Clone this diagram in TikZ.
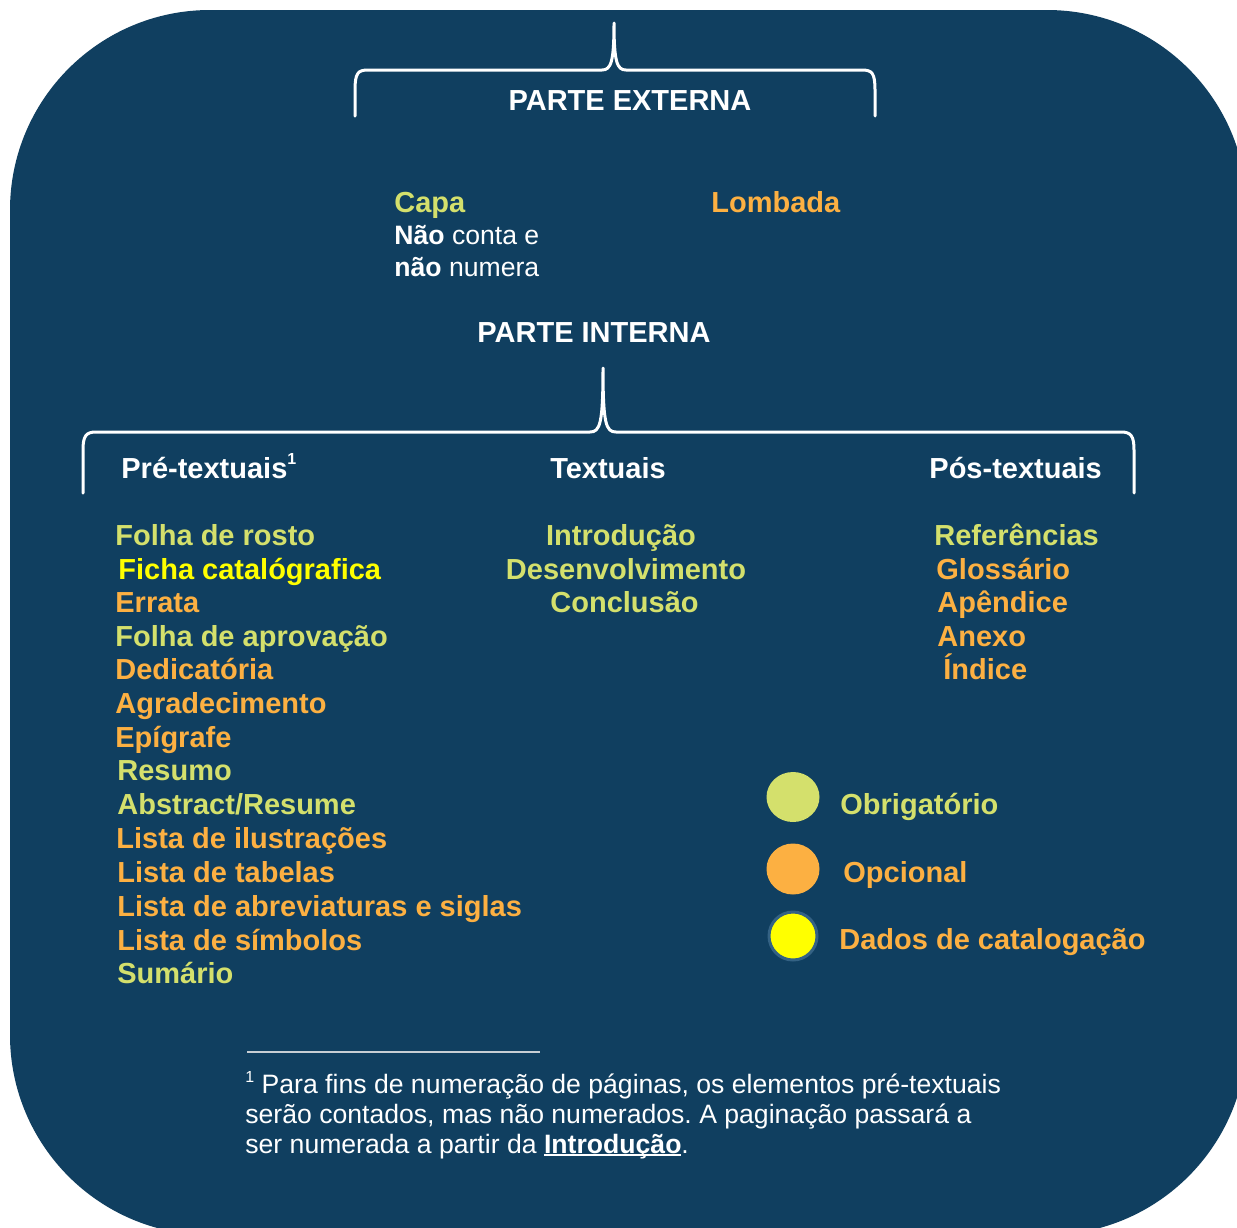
\documentclass[tikz,border=0pt]{standalone}
\usepackage{fontspec}
\setmainfont{Liberation Sans}
\frenchspacing
\definecolor{bgblue}{RGB}{16,63,96}
\definecolor{obgreen}{RGB}{212,224,108}
\definecolor{oporange}{RGB}{252,176,66}
\definecolor{catyellow}{RGB}{255,255,0}
\definecolor{ringblue}{RGB}{52,98,132}
\definecolor{rulegray}{RGB}{200,206,212}
\newcommand\ulbf[1]{\setbox0\hbox{\bfseries #1}\rlap{\rule[-1.6pt]{\wd0}{1.1pt}}\box0}
\tikzset{
  big/.style={inner sep=0pt, font=\bfseries\fontsize{14.5}{17}\selectfont},
  item/.style={big, anchor=base west},
  citem/.style={big, anchor=base},
  small/.style={inner sep=0pt, anchor=base west, text=white, font=\fontsize{13.3}{15}\selectfont},
  bracepath/.style={draw=white, line width=1.5pt, line cap=round, line join=round},
  ob/.style={text=obgreen},
  op/.style={text=oporange},
  ca/.style={text=catyellow},
  wh/.style={text=white},
}
\begin{document}
\begin{tikzpicture}[x=0.5pt,y=-0.5pt]
\useasboundingbox (0,0) rectangle (1237,1227);
\fill[white] (0,0) rectangle (1237,1227);
\begin{scope}
\clip (0,0) rectangle (1237,1227);
\fill[bgblue, rounded corners=100pt] (10,10) rectangle (1247,1235);
\end{scope}

% top brace
\draw[bracepath] (355,116) -- (355,90) .. controls (355,73) and (358,70) .. (368,70) -- (602,70) .. controls (611,70) and (614,62) .. (614,23) .. controls (614,62) and (617,70) .. (626,70) -- (862,70) .. controls (872,70) and (875,73) .. (875,90) -- (875,116);
\node[citem, wh] (ext) at (630,110) {PARTE EXTERNA};

\node[item, ob] (capa) at (394,212) {Capa};
\node[small] (capa1) at (394,244) {\textbf{Não} conta e};
\node[small] (capa2) at (394,276) {\textbf{não} numera};
\node[item, op] (lomb) at (711,212) {Lombada};

\node[citem, wh] (int) at (594,342) {PARTE INTERNA};

% second brace
\draw[bracepath] (83,493) -- (83,450) .. controls (83,436) and (86,432) .. (96,432) -- (590,432) .. controls (600,432) and (603,424) .. (603,368) .. controls (603,424) and (606,432) .. (616,432) -- (1121,432) .. controls (1131,432) and (1134,436) .. (1134,450) -- (1134,493);

\node[item, wh] (pre) at (121,478) {Pré-textuais\raisebox{7pt}{\fontsize{8}{8}\selectfont 1}};
\node[citem, wh] (txt) at (608,478) {Textuais};
\node[item, wh] (pos) at (929,478) {Pós-textuais};

% pre-textuais
\node[item, ob] (p1) at (115,545) {Folha de rosto};
\node[item, ca] (p2) at (118,579) {Ficha catalógrafica};
\node[item, op] (p3) at (115,612.5) {Errata};
\node[item, ob] (p4) at (115,646) {Folha de aprovação};
\node[item, op] (p5) at (115,679.5) {Dedicatória};
\node[item, op] (p6) at (115,713) {Agradecimento};
\node[item, op] (p7) at (115,747) {Epígrafe};
\node[item, ob] (p8) at (117,780.5) {Resumo};
\node[item, ob] (p9) at (117,814) {Abstract/Resume};
\node[item, op] (p10) at (116,848) {Lista de ilustrações};
\node[item, op] (p11) at (117,882) {Lista de tabelas};
\node[item, op] (p12) at (117,916) {Lista de abreviaturas e siglas};
\node[item, op] (p13) at (117,950) {Lista de símbolos};
\node[item, ob] (p14) at (117,983.5) {Sumário};

% textuais
\node[citem, ob] (t1) at (621,545) {Introdução};
\node[citem, ob] (t2) at (626,579) {Desenvolvimento};
\node[citem, ob] (t3) at (624.5,612.5) {Conclusão};

% pos-textuais
\node[item, ob] (s1) at (934,545) {Referências};
\node[item, op] (s2) at (936,579) {Glossário};
\node[item, op] (s3) at (937,612.5) {Apêndice};
\node[item, op] (s4) at (937,646) {Anexo};
\node[item, op] (s5) at (943,679.5) {Índice};

% legend
\fill[obgreen] (793,797) ellipse [x radius=26.5, y radius=25];
\fill[oporange] (793,869) ellipse [x radius=26.5, y radius=25.5];
\fill[catyellow, draw=ringblue, line width=1.5pt] (793,936) circle [radius=24];
\node[item, ob] (l1) at (840,814) {Obrigatório};
\node[item, op] (l2) at (843,882.5) {Opcional};
\node[item, op] (l3) at (839,949) {Dados de catalogação};

% footnote
\coordinate (r1) at (247,1052);
\coordinate (r2) at (540,1052);
\draw[rulegray, line width=0.8pt] (r1) -- (r2);
\node[small] (f1) at (245,1093) {\raisebox{5.5pt}{\fontsize{8}{8}\selectfont 1} Para fins de numeração de páginas, os elementos pré-textuais};
\node[small] (f2) at (245,1123) {serão contados, mas não numerados. A paginação passará a};
\node[small] (f3) at (245,1153) {ser numerada a partir da \ulbf{Introdução}.};
\end{tikzpicture}
\end{document}
